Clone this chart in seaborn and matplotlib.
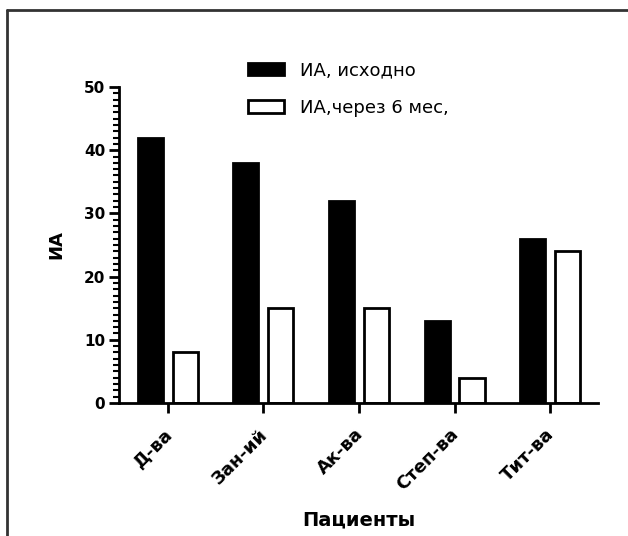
import numpy as np
import pandas as pd
import seaborn as sns
import matplotlib.pyplot as plt
import matplotlib.ticker as ticker
import matplotlib.transforms as mtransforms
from matplotlib.lines import Line2D

patients = ['Д-ва', 'Зан-ий', 'Ак-ва', 'Степ-ва', 'Тит-ва']
ia_base = [42, 38, 32, 13, 26]
ia_6m = [8, 15, 15, 4, 24]
series = ['ИА, исходно', 'ИА,через 6 мес,']

df = pd.DataFrame({
    'patient': patients * 2,
    'value': ia_base + ia_6m,
    'series': [series[0]] * len(patients) + [series[1]] * len(patients),
})

sns.set_style('white')
plt.rcParams['font.family'] = ['DejaVu Sans']
plt.rcParams['text.color'] = 'black'
plt.rcParams['axes.labelcolor'] = 'black'
plt.rcParams['xtick.color'] = 'black'
plt.rcParams['ytick.color'] = 'black'

W, H = 628, 536
fig = plt.figure(figsize=(W / 100, H / 100), dpi=100)
ax = fig.add_axes([119 / W, 1 - 403 / H, (598 - 119) / W, (403 - 87) / H])

sns.barplot(data=df, x='patient', y='value', hue='series', order=patients,
            hue_order=series, palette={series[0]: 'black', series[1]: 'white'},
            edgecolor='black', linewidth=2, width=0.73, gap=0.28, ax=ax)

ax.set_xlim(-0.51, 4.5)
ax.set_ylim(0, 50)
ax.yaxis.set_major_locator(ticker.MultipleLocator(10))
ax.yaxis.set_minor_locator(ticker.MultipleLocator(1))

sns.despine(ax=ax)
for s in ['left', 'bottom']:
    ax.spines[s].set_linewidth(2)
    ax.spines[s].set_color('black')

ax.tick_params(axis='both', which='major', direction='out', length=7, width=2,
               labelsize=11)
ax.tick_params(axis='y', which='minor', direction='out', length=4.5, width=1.5,
               left=True)
ax.tick_params(axis='x', bottom=True, pad=9)
ax.tick_params(axis='y', left=True, pad=3)

for lab in ax.get_yticklabels():
    lab.set_fontweight('bold')
ax.set_xticks(range(len(patients)))
ax.set_xticklabels(patients, rotation=45, ha='right', rotation_mode='anchor',
                   fontweight='bold', fontsize=13)
# nudge the rotated labels a little to the left
shift = mtransforms.ScaledTranslation(-5 / 100, 0, fig.dpi_scale_trans)
for lab in ax.get_xticklabels():
    lab.set_transform(lab.get_transform() + shift)

ax.set_ylabel('ИА', fontsize=13, fontweight='bold', labelpad=13)
ax.set_xlabel('Пациенты', fontsize=14, fontweight='bold', labelpad=12)

handles, labels = ax.get_legend_handles_labels()
ax.legend(handles, labels, loc='upper left', bbox_to_anchor=(248 / W, 1 - 61 / H),
          bbox_transform=fig.transFigure, frameon=False, fontsize=13,
          handlelength=2.0, handleheight=0.65, handletextpad=0.9,
          labelspacing=1.1, borderpad=0, borderaxespad=0)

# outer frame of the original figure
fig.add_artist(Line2D([7 / W, 1], [1 - 10 / H, 1 - 10 / H], transform=fig.transFigure,
                      color='#333333', linewidth=2))
fig.add_artist(Line2D([7 / W, 7 / W], [0, 1 - 10 / H], transform=fig.transFigure,
                      color='#333333', linewidth=2))

fig.savefig('out.png', dpi=100)
